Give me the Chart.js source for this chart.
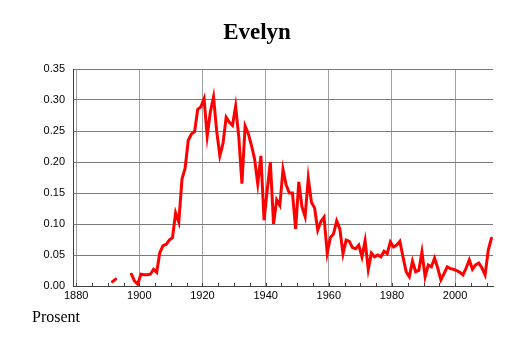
<!DOCTYPE html>
<html>
<head>
<meta charset="utf-8">
<script src="https://cdn.jsdelivr.net/npm/chart.js@4.4.0/dist/chart.umd.min.js"></script>
<style>
html, body { margin: 0; padding: 0; background: #fff; }
#wrap { position: relative; width: 514px; height: 343px; }
#prosent { position: absolute; left: 32px; top: 309px; font-family: "Liberation Serif", serif; font-size: 16px; line-height: 16px; color: #000; }
</style>
</head>
<body>
<div id="wrap">
    <canvas id="nameChart" width="514" height="343"></canvas>
    <div id="prosent">Prosent</div>
</div>
<script>
const chartTitle = 'Evelyn';

// one value per year, starting at firstYear (null = no data that year)
const firstYear = 1891;
const share = [
    0.007, 0.011, null, null, null, null, 0.019, 0.008, 0.003,           // 1891-1899
    0.019, 0.018, 0.018, 0.019, 0.027, 0.022, 0.054, 0.065, 0.067, 0.074, // 1900-1909
    0.078, 0.118, 0.103, 0.172, 0.190, 0.235, 0.245, 0.249, 0.285, 0.289, // 1910-1919
    0.302, 0.242, 0.281, 0.305, 0.250, 0.210, 0.230, 0.272, 0.264, 0.259, // 1920-1929
    0.290, 0.240, 0.165, 0.258, 0.246, 0.227, 0.205, 0.165, 0.210, 0.106, // 1930-1939
    0.155, 0.200, 0.100, 0.139, 0.130, 0.188, 0.163, 0.150, 0.150, 0.092, // 1940-1949
    0.168, 0.128, 0.112, 0.174, 0.135, 0.126, 0.090, 0.104, 0.111, 0.053, // 1950-1959
    0.078, 0.084, 0.105, 0.092, 0.052, 0.074, 0.072, 0.062, 0.060, 0.066, // 1960-1969
    0.047, 0.073, 0.027, 0.053, 0.047, 0.050, 0.047, 0.056, 0.052, 0.071, // 1970-1979
    0.063, 0.066, 0.072, 0.047, 0.023, 0.015, 0.040, 0.023, 0.025, 0.055, // 1980-1989
    0.015, 0.034, 0.031, 0.045, 0.029, 0.010, 0.020, 0.031, 0.028, 0.027, // 1990-1999
    0.025, 0.022, 0.018, 0.029, 0.042, 0.027, 0.034, 0.037, 0.029, 0.018, // 2000-2009
    0.058, 0.077                                                          // 2010-2011
];
const years = share.map((_, i) => firstYear + i);

const xTickLabels = [1880, 1900, 1920, 1940, 1960, 1980, 2000];
const yTickLabels = ['0.00', '0.05', '0.10', '0.15', '0.20', '0.25', '0.30', '0.35'];

// values are plotted in the middle of their year
const MID_YEAR = 0.5;

// small inward ticks every 5 years on the bottom axis
const minorTicks = {
    id: 'minorTicks',
    afterDraw(chart) {
        const x = chart.scales.x;
        const ctx = chart.ctx;
        const bottom = chart.chartArea.bottom;
        ctx.save();
        ctx.strokeStyle = '#404040';
        ctx.lineWidth = 1;
        x.ticks.forEach(t => {
            const px = Math.round(x.getPixelForValue(t.value)) + 0.5;
            ctx.beginPath();
            ctx.moveTo(px, bottom);
            ctx.lineTo(px, bottom - 3);
            ctx.stroke();
        });
        ctx.restore();
    }
};

const ctx = document.getElementById('nameChart').getContext('2d');

new Chart(ctx, {
    type: 'line',
    data: {
        datasets: [{
            label: chartTitle,
            data: years.map((y, i) => ({ x: y + MID_YEAR, y: share[i] })),
            borderColor: '#ff0000',
            borderWidth: 3,
            borderCapStyle: 'round',
            pointRadius: 0,
            tension: 0,
            fill: false
        }]
    },
    options: {
        responsive: false,
        animation: false,
        layout: { padding: 0 },
        plugins: {
            legend: { display: false },
            tooltip: { enabled: false },
            title: {
                display: true,
                text: chartTitle,
                color: '#000',
                font: { family: 'Liberation Serif', size: 23, weight: 'bold', lineHeight: 1.2 },
                padding: { top: 19.6, bottom: 21.8 }
            }
        },
        scales: {
            x: {
                type: 'linear',
                min: 1879,
                max: 2012,
                afterFit: (scale) => { scale.height = 57; },
                ticks: {
                    stepSize: 5,
                    includeBounds: false,
                    autoSkip: false,
                    maxRotation: 0,
                    padding: 3,
                    color: '#000',
                    font: { family: 'Liberation Sans', size: 11 },
                    callback: (v) => xTickLabels.includes(v) ? String(v) : ''
                },
                grid: {
                    drawTicks: false,
                    color: (c) => (c.tick && xTickLabels.includes(c.tick.value)) ? '#a0a0a0' : 'rgba(0,0,0,0)'
                },
                border: { color: '#404040', width: 1 }
            },
            y: {
                min: 0,
                max: 0.35,
                afterFit: (scale) => { scale.width = 73; },
                ticks: {
                    stepSize: 0.05,
                    padding: 8,
                    color: '#000',
                    font: { family: 'Liberation Sans', size: 11 },
                    callback: (v, i) => yTickLabels[i]
                },
                grid: { drawTicks: false, color: '#7a7a7a' },
                border: { color: '#404040', width: 1 }
            },
            // empty right margin so the title stays centred on the page
            margin: {
                position: 'right',
                afterFit: (scale) => { scale.width = 21; },
                ticks: { display: false },
                grid: { display: false },
                border: { display: false }
            }
        }
    },
    plugins: [minorTicks]
});
</script>
</body>
</html>
